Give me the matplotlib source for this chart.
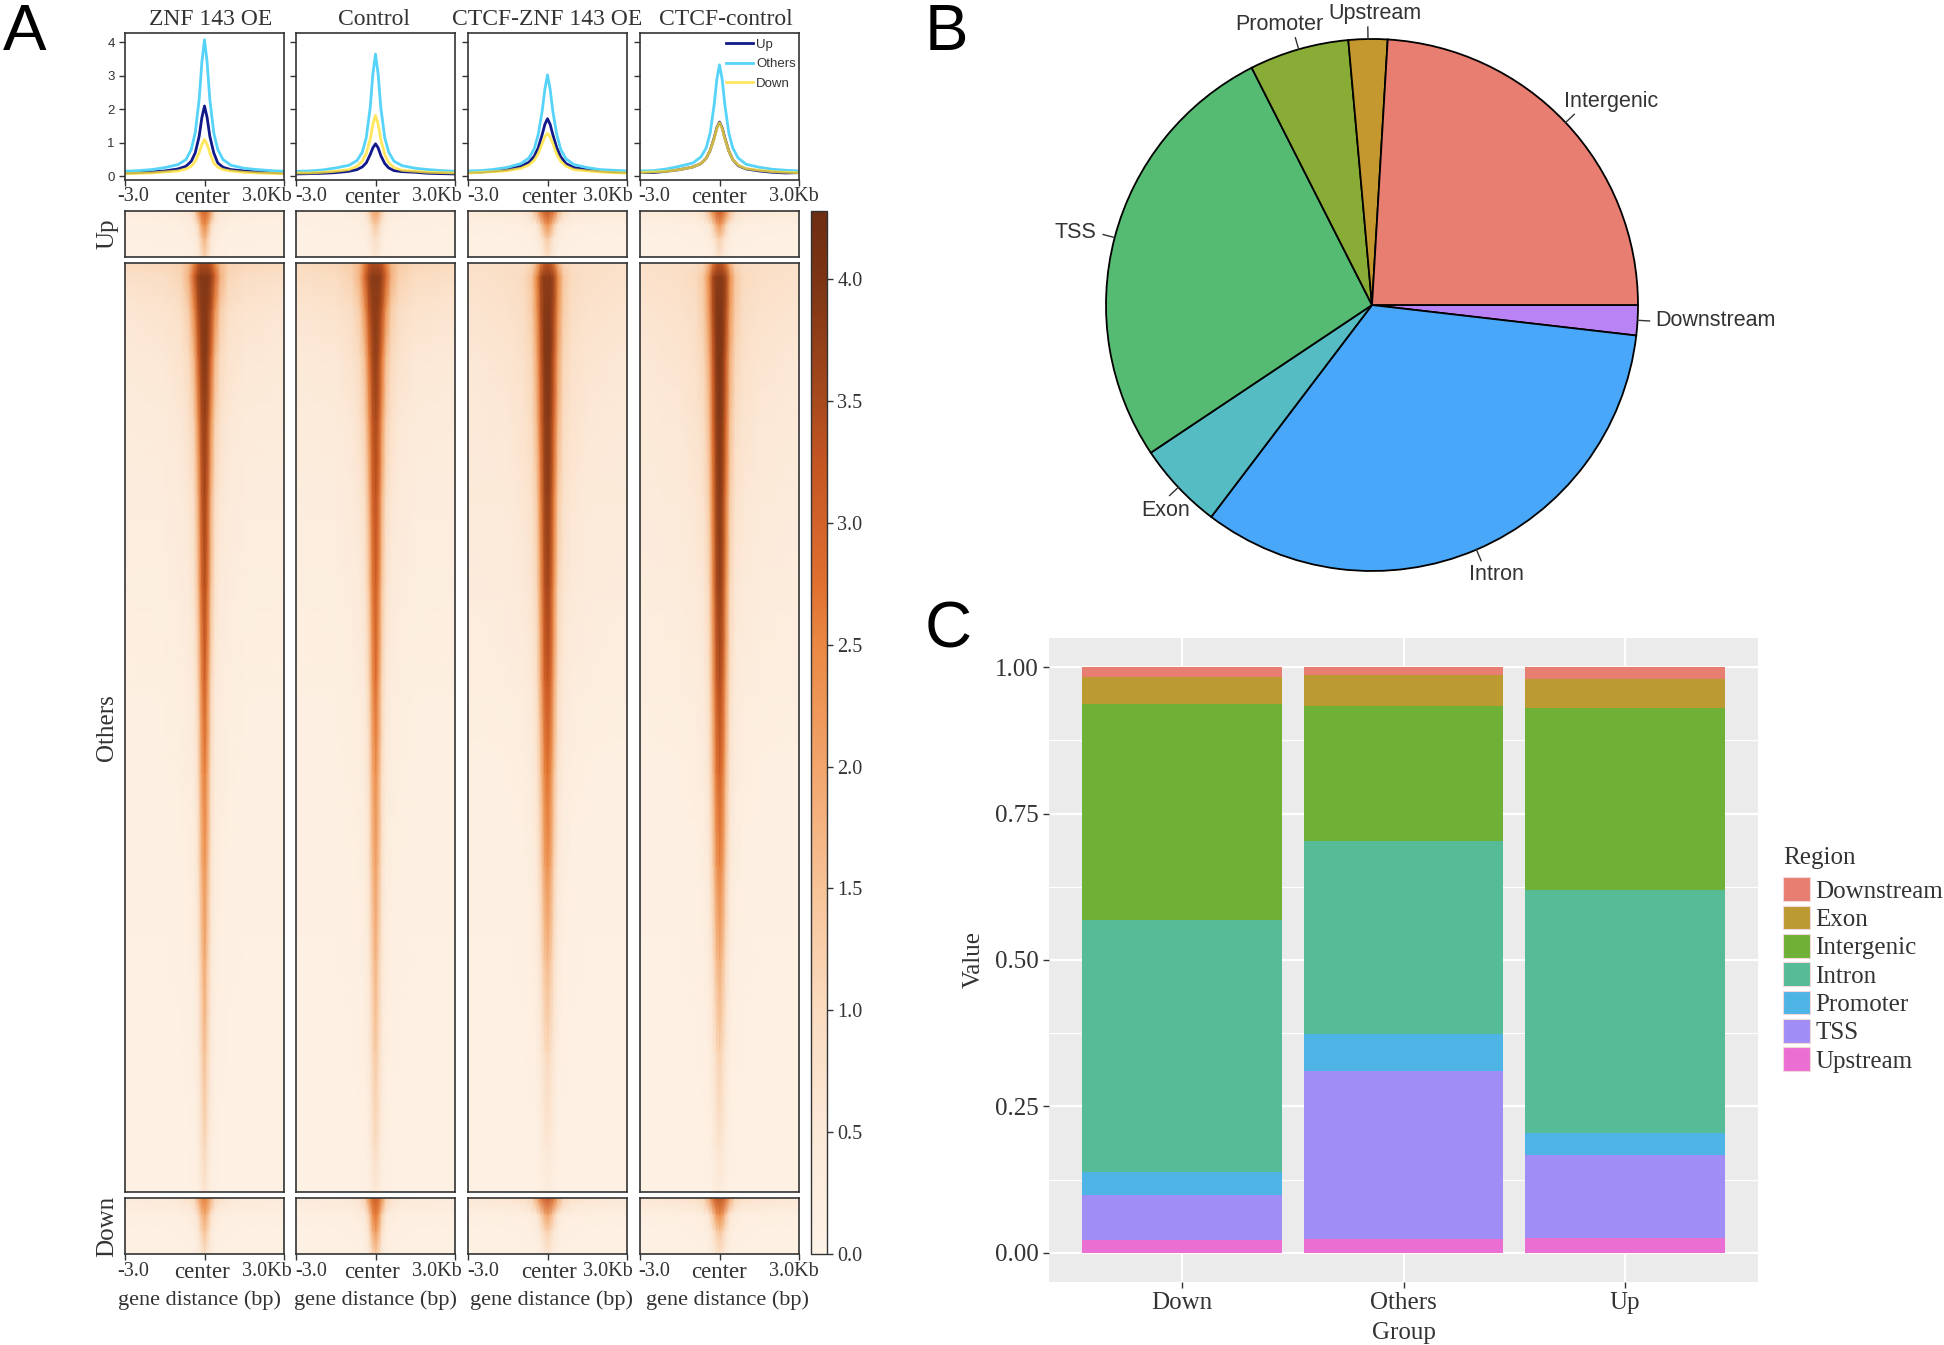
#Figure with three panels: signal heatmaps (A), region pie (B), stacked bars (C)
import numpy as np
import matplotlib
matplotlib.use('Agg')
import matplotlib.pyplot as plt
from matplotlib.patches import Patch
from matplotlib.cm import ScalarMappable
from matplotlib.colors import Normalize, LinearSegmentedColormap
from matplotlib.transforms import ScaledTranslation

W, H = 1944, 1345
SERIF = ['Liberation Serif', 'DejaVu Serif']
SANS = ['Liberation Sans', 'DejaVu Sans']
DARK = '#333333'

###########data###
panel_titles = ['ZNF 143 OE', 'Control', 'CTCF-ZNF 143 OE', 'CTCF-control']
row_names = ['Up', 'Others', 'Down']

# profile curves, one row per panel
x_prof = [-3, -2.5, -2, -1.5, -1, -.7, -.5, -.35, -.2, -.1, 0, .1, .2, .35, .5, .7, 1, 1.5, 2, 2.5, 3]
prof_up = [
    [.1, .11, .13, .16, .22, .3, .45, .7, 1.2, 1.75, 2.1, 1.75, 1.2, .7, .4, .27, .2, .16, .13, .11, .1],
    [.07, .08, .09, .11, .15, .2, .28, .4, .65, .85, .97, .85, .62, .38, .25, .17, .14, .12, .09, .08, .07],
    [.12, .13, .16, .2, .3, .42, .6, .85, 1.25, 1.55, 1.72, 1.55, 1.25, .85, .58, .38, .26, .2, .16, .13, .12],
    [.12, .11, .15, .2, .28, .38, .54, .78, 1.15, 1.45, 1.62, 1.45, 1.15, .76, .5, .32, .22, .16, .12, .1, .11],
]
prof_others = [
    [.15, .17, .2, .26, .35, .5, .8, 1.3, 2.3, 3.4, 4.08, 3.4, 2.3, 1.3, .8, .5, .33, .24, .2, .17, .15],
    [.15, .16, .19, .25, .33, .47, .72, 1.15, 2.05, 3.05, 3.65, 3.05, 2.05, 1.15, .72, .45, .32, .24, .2, .17, .15],
    [.16, .17, .21, .27, .38, .55, .82, 1.25, 1.95, 2.6, 3.03, 2.6, 1.95, 1.25, .8, .52, .35, .26, .2, .18, .16],
    [.16, .17, .22, .3, .4, .58, .85, 1.3, 2.15, 2.9, 3.33, 2.9, 2.15, 1.3, .85, .55, .36, .27, .21, .18, .16],
]
prof_down = [
    [.08, .09, .1, .13, .16, .22, .3, .45, .7, .95, 1.1, .95, .7, .4, .27, .2, .16, .12, .1, .09, .08],
    [.1, .1, .12, .15, .2, .3, .45, .68, 1.1, 1.55, 1.82, 1.55, 1.1, .65, .4, .26, .18, .15, .12, .11, .1],
    [.1, .12, .14, .17, .24, .34, .48, .68, .98, 1.18, 1.28, 1.18, .98, .65, .45, .3, .2, .16, .13, .11, .1],
    [.12, .13, .15, .2, .28, .38, .54, .78, 1.13, 1.43, 1.6, 1.43, 1.13, .76, .5, .33, .23, .18, .14, .12, .11],
]

# heatmap signal: half profile (distance from center in kb), mirrored when drawn
heat_offsets = [0, .12, .25, .4, .6, .9, 1.5, 3]
small_rows = [0, .3, .6, 1]
others_rows = [0, .015, .05, .1, .17, .25, .35, .45, .55, .65, .75, .85, .95, 1]

heat_up = [
    [[3.0, 2.8, 2.1, 1.0, .6, .45, .35, .3], [2.5, 2.0, 1.0, .45, .3, .22, .2, .18],
     [1.8, 1.3, .6, .3, .2, .15, .14, .12], [1.2, .8, .35, .2, .14, .12, .1, .1]],
    [[2.1, 1.9, 1.2, .6, .4, .3, .25, .22], [1.4, 1.1, .55, .3, .2, .16, .14, .12],
     [.9, .7, .35, .2, .14, .12, .1, .1], [.6, .4, .22, .14, .11, .1, .1, .1]],
    [[3.3, 3.1, 2.7, 1.8, 1.0, .6, .5, .45], [2.4, 2.0, 1.3, .6, .35, .25, .2, .18],
     [1.4, 1.1, .6, .3, .2, .15, .13, .12], [.8, .55, .3, .18, .13, .11, .1, .1]],
    [[3.2, 3.0, 2.5, 1.6, .9, .6, .5, .45], [2.3, 1.9, 1.2, .55, .32, .24, .2, .18],
     [1.3, 1.0, .55, .28, .18, .14, .12, .12], [.7, .5, .28, .16, .12, .1, .1, .1]],
]
heat_others = [
    [[3.4, 3.4, 3.1, 2.5, 1.6, 1.2, 1.1, 1.0], [3.9, 3.9, 3.7, 3.0, 1.8, 1.1, .9, .8],
     [3.9, 3.8, 3.4, 2.4, 1.3, .85, .7, .6], [3.9, 3.7, 2.9, 1.7, 1.0, .7, .55, .48],
     [3.7, 3.4, 2.3, 1.2, .75, .55, .42, .38], [3.6, 3.1, 1.8, .9, .6, .45, .35, .3],
     [3.4, 2.8, 1.5, .7, .45, .35, .28, .25], [3.1, 2.4, 1.1, .5, .35, .28, .22, .2],
     [2.6, 2.0, .85, .4, .28, .22, .18, .16], [2.3, 1.7, .7, .32, .22, .18, .15, .14],
     [2.0, 1.3, .55, .28, .2, .15, .13, .12], [1.6, 1.05, .45, .22, .16, .13, .11, .1],
     [1.1, .7, .3, .17, .13, .11, .1, .1], [.7, .45, .22, .14, .12, .1, .1, .1]],
    [[3.4, 3.4, 3.2, 2.6, 1.7, 1.3, 1.1, 1.0], [3.85, 3.85, 3.6, 2.9, 1.8, 1.2, .95, .85],
     [3.8, 3.7, 3.3, 2.3, 1.3, .9, .72, .62], [3.75, 3.5, 2.7, 1.6, 1.0, .72, .55, .48],
     [3.5, 3.2, 2.2, 1.2, .75, .55, .42, .38], [3.3, 2.9, 1.75, .9, .6, .45, .35, .3],
     [3.1, 2.6, 1.4, .7, .45, .35, .28, .25], [2.85, 2.25, 1.1, .5, .35, .28, .22, .2],
     [2.4, 1.85, .85, .4, .28, .22, .18, .16], [2.1, 1.6, .7, .32, .22, .18, .15, .14],
     [1.8, 1.25, .55, .28, .2, .15, .13, .12], [1.4, 1.0, .45, .22, .16, .13, .11, .1],
     [1.0, .65, .3, .17, .13, .11, .1, .1], [.55, .38, .2, .14, .12, .1, .1, .1]],
    [[3.3, 3.1, 2.6, 1.7, 1.1, .9, .85, .8], [3.8, 3.8, 3.5, 2.5, 1.4, 1.0, .85, .75],
     [3.9, 3.85, 3.4, 2.3, 1.3, .9, .75, .65], [3.95, 3.85, 3.2, 2.0, 1.1, .8, .65, .55],
     [3.9, 3.7, 2.9, 1.7, .95, .7, .55, .48], [3.8, 3.55, 2.6, 1.35, .8, .6, .48, .42],
     [3.6, 3.3, 2.3, 1.1, .65, .5, .4, .35], [3.25, 2.95, 1.95, .9, .5, .38, .3, .26],
     [2.75, 2.45, 1.5, .65, .35, .25, .2, .18], [2.35, 2.0, 1.15, .5, .26, .2, .16, .14],
     [1.7, 1.4, .8, .35, .2, .15, .13, .12], [1.05, .85, .5, .25, .16, .13, .11, .1],
     [.6, .48, .3, .18, .13, .11, .1, .1], [.3, .26, .18, .13, .11, .1, .1, .1]],
    [[3.3, 3.1, 2.6, 1.7, 1.1, .9, .85, .8], [3.85, 3.8, 3.5, 2.4, 1.4, 1.0, .85, .75],
     [3.95, 3.9, 3.4, 2.2, 1.3, .9, .75, .65], [4.0, 3.85, 3.1, 1.85, 1.1, .8, .65, .55],
     [3.95, 3.75, 2.85, 1.55, .9, .7, .55, .48], [3.9, 3.6, 2.6, 1.3, .75, .58, .46, .4],
     [3.75, 3.45, 2.35, 1.05, .6, .46, .38, .33], [3.45, 3.1, 2.0, .85, .48, .36, .3, .26],
     [3.0, 2.65, 1.6, .65, .35, .25, .2, .18], [2.55, 2.2, 1.25, .5, .26, .2, .16, .14],
     [1.9, 1.55, .85, .35, .2, .15, .13, .12], [1.25, .95, .55, .25, .16, .13, .11, .1],
     [.7, .55, .32, .18, .13, .11, .1, .1], [.35, .3, .2, .13, .11, .1, .1, .1]],
]
heat_down = [
    [[2.6, 2.4, 1.8, 1.0, .75, .6, .5, .4], [2.0, 1.6, .8, .4, .28, .22, .2, .18],
     [1.5, 1.1, .5, .25, .18, .15, .13, .12], [.9, .6, .3, .17, .13, .11, .1, .1]],
    [[3.0, 2.9, 2.3, 1.2, .8, .6, .5, .4], [2.7, 2.3, 1.2, .5, .3, .22, .2, .18],
     [2.2, 1.75, .75, .3, .2, .15, .13, .12], [1.4, 1.0, .4, .2, .14, .11, .1, .1]],
    [[3.2, 3.1, 2.7, 1.9, 1.1, .75, .65, .55], [2.1, 1.8, 1.2, .55, .3, .24, .22, .2],
     [1.2, 1.0, .6, .3, .18, .14, .13, .12], [.6, .45, .28, .17, .12, .11, .1, .1]],
    [[3.3, 3.2, 2.8, 1.9, 1.1, .8, .7, .6], [2.5, 2.2, 1.4, .6, .32, .25, .22, .2],
     [1.5, 1.2, .7, .32, .2, .15, .13, .12], [.8, .6, .32, .18, .13, .11, .1, .1]],
]
heat_ticks = [0.0, 0.5, 1.0, 1.5, 2.0, 2.5, 3.0, 3.5, 4.0]
heat_vmax = 4.28
# colours at these values
cbar_stops = [0, .5, 1, 1.5, 2, 2.5, 2.75, 3, 3.25, 3.5, 4, 4.28]
cbar_colors = ['#FDF3E7', '#FCE9D8', '#FADBBF', '#F7C397', '#F2A56C', '#EA8843', '#E0702F', '#D2622A', '#C45522',
               '#A84A1D', '#7C3414', '#6E2D12']

# pie, clockwise from 3 o'clock
pie_labels = ['Downstream', 'Intron', 'Exon', 'TSS', 'Promoter', 'Upstream', 'Intergenic']
pie_values = [1.83, 33.5, 5.3, 26.9, 6.05, 2.36, 24.06]
pie_colors = ['#B983F5', '#48A7F8', '#55BCC3', '#56BB72', '#89AC36', '#C5972F', '#E87D72']

# stacked bars, top segment first
groups = ['Down', 'Others', 'Up']
regions = ['Downstream', 'Exon', 'Intergenic', 'Intron', 'Promoter', 'TSS', 'Upstream']
region_colors = ['#E87D72', '#BC9A32', '#6FB136', '#56BC97', '#4EB3E5', '#A08DF6', '#EB6FD3']
down_vals = [.017, .045, .370, .430, .039, .077, .022]
others_vals = [.014, .053, .230, .329, .063, .288, .023]
up_vals = [.020, .049, .311, .415, .038, .141, .026]

###########plot###
plt.rcParams['font.family'] = SERIF
fig = plt.figure(figsize=(W / 100, H / 100), dpi=100, facecolor='white')

heat_cmap = LinearSegmentedColormap.from_list('signal', [(v / heat_vmax, col) for v, col in zip(cbar_stops, cbar_colors)])
norm = Normalize(0, heat_vmax)


def add_ax(x0, y0, x1, y1):
    return fig.add_axes([x0 / W, 1 - y1 / H, (x1 - x0) / W, (y1 - y0) / H])


def style_frame(ax):
    for s in ax.spines.values():
        s.set_linewidth(1.2)
        s.set_color(DARK)


# how far each "-3.0 / center / 3.0Kb" label sits from its tick, in pixels
tick_shift = [[8, -3, -17], [15, -4, -18], [15, 1, -19], [14, 0, -5]]
title_shift = [6, -2, 0, 6]
xlabel_shift = [-5, 0, 4, 8]


def set_center_ticks(ax, col, pad):
    ax.set_xticks([-3, 0, 3])
    ax.set_xticklabels(['-3.0', 'center', '3.0Kb'], fontsize=14.5, color=DARK)
    ax.tick_params(axis='x', length=4, width=1, color=DARK, pad=pad)
    ax.get_xticklabels()[1].set_fontsize(16.5)
    # the three labels do not sit right under their ticks
    for lab, dx in zip(ax.get_xticklabels(), tick_shift[col]):
        lab.set_transform(lab.get_transform() + ScaledTranslation(dx / 100, 0, fig.dpi_scale_trans))


col_x = [(125, 284), (296, 455), (468, 627), (640, 799)]
row_y = [(211, 257), (263, 1192), (1198, 1254)]
heat_sets = [heat_up, heat_others, heat_down]
row_fracs = [small_rows, others_rows, small_rows]
mirror_x = np.array([-o for o in heat_offsets[::-1]] + heat_offsets[1:])

for c, (x0, x1) in enumerate(col_x):
    # profile on top
    ax = add_ax(x0, 33, x1, 180)
    ax.plot(x_prof, prof_up[c], color='#10188A', lw=2, label='Up')
    ax.plot(x_prof, prof_others[c], color='#55D3F8', lw=2, label='Others')
    ax.plot(x_prof, prof_down[c], color='#FFE135', lw=2, alpha=.8, label='Down')
    ax.set_xlim(-3, 3)
    ax.set_ylim(-.11, 4.28)
    ax.set_yticks([0, 1, 2, 3, 4])
    ax.tick_params(axis='y', length=4, width=1, color=DARK)
    if c == 0:
        ax.set_yticklabels(['0', '1', '2', '3', '4'], family=SANS, fontsize=9.5, color=DARK)
    else:
        ax.set_yticklabels([])
    set_center_ticks(ax, c, 1)
    style_frame(ax)
    ax.set_title(panel_titles[c], fontsize=17, color=DARK, pad=6, x=.5 + title_shift[c] / 159)
    if c == 3:
        ax.legend(loc='upper right', bbox_to_anchor=(1.0, .985), frameon=False, prop={'family': SANS, 'size': 9.5},
                  handlelength=2.1, handletextpad=.2, labelspacing=.55, borderpad=.25, borderaxespad=0,
                  labelcolor=DARK)

    # heatmaps
    for r, (y0, y1) in enumerate(row_y):
        ax = add_ax(x0, y0, x1, y1)
        half = np.array(heat_sets[r][c])
        z = np.hstack([half[:, ::-1], half[:, 1:]])
        ax.pcolormesh(mirror_x, row_fracs[r], z, cmap=heat_cmap, norm=norm, shading='gouraud')
        ax.set_xlim(-3, 3)
        ax.set_ylim(1, 0)
        ax.set_yticks([])
        style_frame(ax)
        if r == 2:
            set_center_ticks(ax, c, 2)
            ax.set_xlabel('gene distance (bp)', fontsize=16, color=DARK, labelpad=5, x=.5 + xlabel_shift[c] / 159)
        else:
            ax.set_xticks([])
        if c == 0:
            ax.set_ylabel(row_names[r], fontsize=18, color=DARK, labelpad=5)

# colorbar
cax = add_ax(811, 211, 827, 1254)
cb = fig.colorbar(ScalarMappable(norm=norm, cmap=heat_cmap), cax=cax)
cb.set_ticks(heat_ticks)
cb.ax.tick_params(labelsize=14.5, length=4, width=1, color=DARK, labelcolor=DARK)
cb.outline.set_linewidth(1)
cb.outline.set_edgecolor(DARK)

# panel B
ax = add_ax(1106, 39, 1638, 571)
wedges, _ = ax.pie(pie_values, colors=pie_colors, startangle=0, counterclock=False,
                   wedgeprops=dict(edgecolor='black', linewidth=1.3, clip_on=False))
ax.set_xlim(-1, 1)
ax.set_ylim(-1, 1)
pie_label_px = [(1715, 320), (1496, 574), (1166, 511), (1075, 233), (1279, 24), (1375, 13), (1611, 102)]
for wd, name, (tx, ty) in zip(wedges, pie_labels, pie_label_px):
    a = np.deg2rad((wd.theta1 + wd.theta2) / 2)
    ax.plot([np.cos(a), 1.045 * np.cos(a)], [np.sin(a), 1.045 * np.sin(a)], color=DARK, lw=1, clip_on=False)
    fig.text(tx / W, 1 - ty / H, name, family=SANS, fontsize=15.5, color=DARK, ha='center', va='center')

# panel C
ax = add_ax(1049, 638, 1758, 1282)
ax.set_facecolor('#EBEBEB')
stack = np.array([down_vals, others_vals, up_vals])
xpos = np.arange(1, 4)
tops = np.ones(3)
for i, reg in enumerate(regions):
    ax.bar(xpos, stack[:, i], width=.9, bottom=tops - stack[:, i], color=region_colors[i], zorder=3)
    tops = tops - stack[:, i]
ax.set_xlim(.4, 3.6)
ax.set_ylim(-.05, 1.05)
ax.set_xticks(xpos)
ax.set_xticklabels(groups)
ax.set_yticks([0, .25, .5, .75, 1])
ax.set_yticklabels(['0.00', '0.25', '0.50', '0.75', '1.00'])
ax.set_yticks([.125, .375, .625, .875], minor=True)
ax.grid(True, which='major', color='white', lw=1.6, zorder=1)
ax.grid(True, which='minor', axis='y', color='white', lw=.8, zorder=1)
ax.set_axisbelow(True)
ax.tick_params(axis='both', which='major', labelsize=18, length=4, width=1, color=DARK, labelcolor=DARK)
ax.tick_params(axis='y', which='minor', length=0)
ax.tick_params(axis='x', pad=3)
for s in ax.spines.values():
    s.set_visible(False)
ax.set_xlabel('Group', fontsize=18, color=DARK, labelpad=6)
ax.set_ylabel('Value', fontsize=18, color=DARK, labelpad=7)

handles = [Patch(facecolor=col, edgecolor='#F2D8D8', linewidth=.8, label=reg) for reg, col in zip(regions, region_colors)]
leg = fig.legend(handles=handles, title='Region', loc='upper left', bbox_to_anchor=(1783 / W, 1 - 847 / H),
                 frameon=False, fontsize=18, title_fontsize=18, alignment='left', borderpad=0, borderaxespad=0,
                 handlelength=1.08, handleheight=1.08, labelspacing=.12, handletextpad=.22, labelcolor=DARK)
leg.get_title().set_color(DARK)
leg._legend_box.sep = 6

# panel letters
for letter, tx, ty in [('A', 3, 50), ('B', 925, 50), ('C', 925, 648)]:
    fig.text(tx / W, 1 - ty / H, letter, family=SANS, fontsize=47, color='black', ha='left', va='baseline')

plt.savefig('out.png', dpi=100)
